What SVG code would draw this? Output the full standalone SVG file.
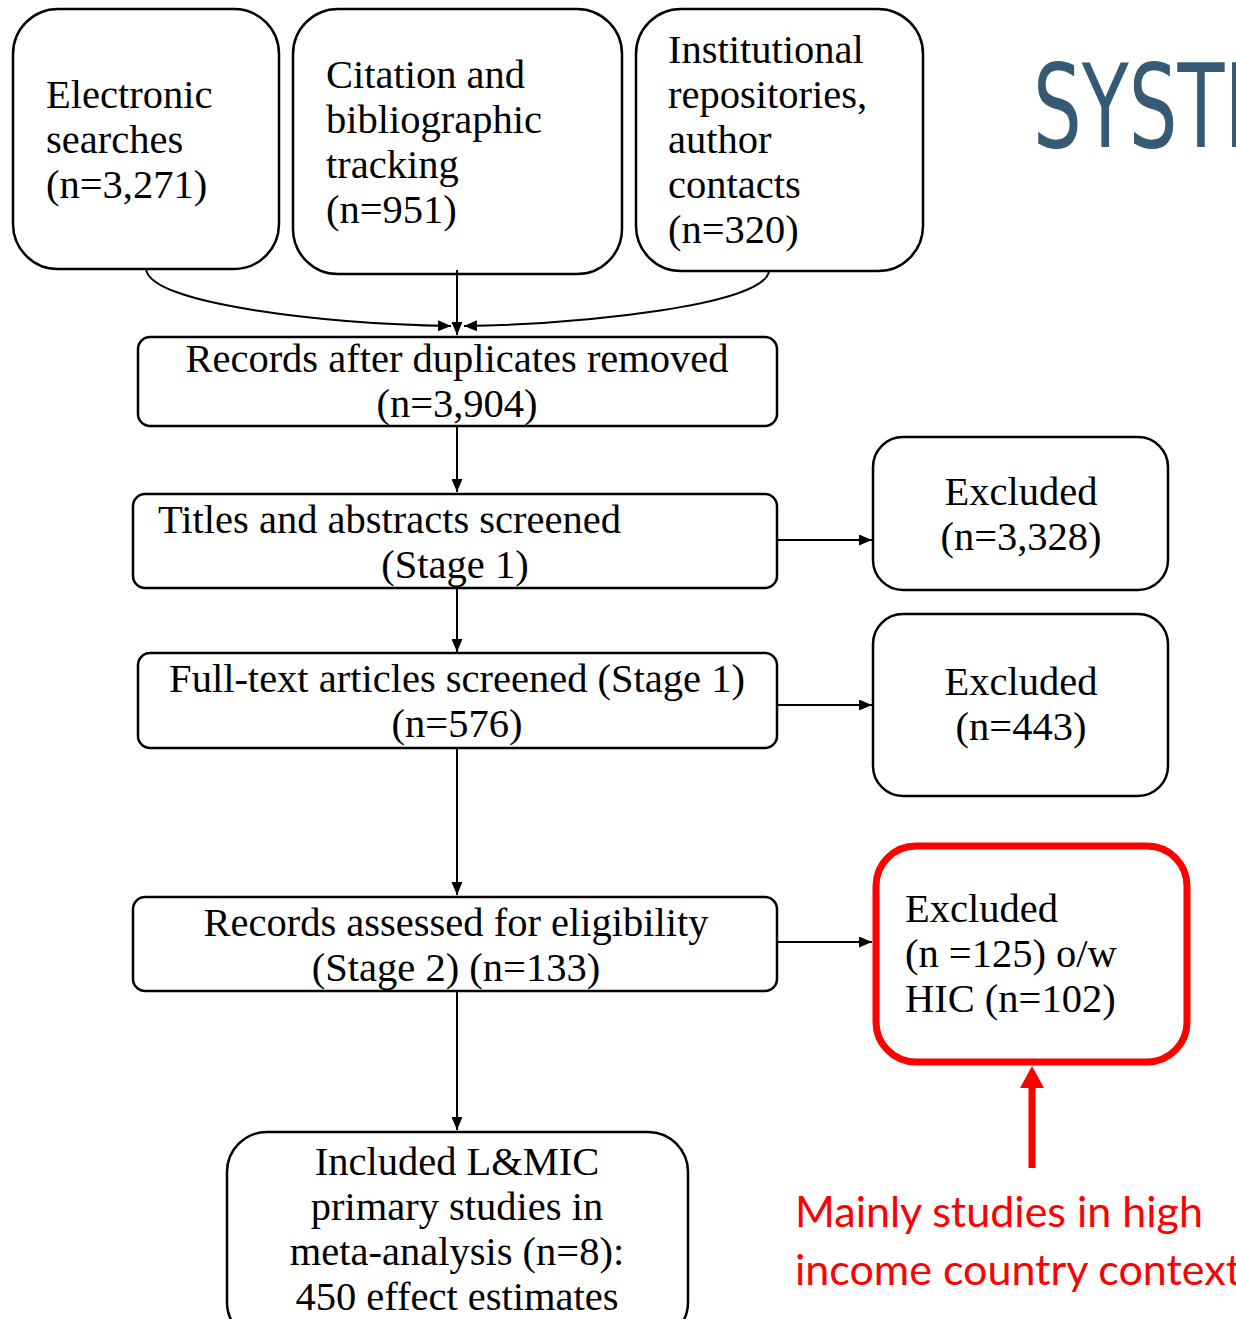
<svg xmlns="http://www.w3.org/2000/svg" width="1236" height="1319" viewBox="0 0 1236 1319">
<defs>
<style>
.box{fill:#fff;stroke:#000;stroke-width:2.5}
.t{font-family:"Liberation Serif","Times New Roman",serif;font-size:40.5px;fill:#000}
.c{text-anchor:middle}
.ln{fill:none;stroke:#000;stroke-width:2}
.red{font-family:Lato,"DejaVu Sans",sans-serif;font-size:43px;fill:#ff0000}
</style>
<marker id="ah" viewBox="0 0 13 11" refX="13" refY="5.5" markerWidth="13" markerHeight="11" markerUnits="userSpaceOnUse" orient="auto">
<path d="M0,0 L13,5.5 L0,11 Z" fill="#000"/>
</marker>
</defs>
<rect width="1236" height="1319" fill="#fff"/>
<text x="1033" y="147" font-family="'DejaVu Sans',sans-serif" font-size="115" fill="#365a73" textLength="240" lengthAdjust="spacingAndGlyphs">SYSTE</text>

<g id="n1"><rect class="box" x="13" y="9" width="266" height="260" rx="45"/>
<text class="t"><tspan x="46" y="108">Electronic</tspan><tspan x="46" y="153">searches</tspan><tspan x="46" y="198">(n=3,271)</tspan></text></g>
<g id="n2"><rect class="box" x="293" y="9" width="329" height="265" rx="45"/>
<text class="t"><tspan x="326" y="88">Citation and</tspan><tspan x="326" y="133">bibliographic</tspan><tspan x="326" y="178">tracking</tspan><tspan x="326" y="223">(n=951)</tspan></text></g>
<g id="n3"><rect class="box" x="636" y="9" width="287" height="262" rx="45"/>
<text class="t"><tspan x="668" y="63">Institutional</tspan><tspan x="668" y="108">repositories,</tspan><tspan x="668" y="153">author</tspan><tspan x="668" y="198">contacts</tspan><tspan x="668" y="243">(n=320)</tspan></text></g>
<g id="n4"><rect class="box" x="138" y="337" width="639" height="89" rx="12"/>
<text class="t c"><tspan x="457" y="372">Records after duplicates removed</tspan><tspan x="457" y="417">(n=3,904)</tspan></text></g>
<g id="n5"><rect class="box" x="133" y="494" width="644" height="94" rx="12"/>
<text class="t"><tspan x="158" y="533">Titles and abstracts screened</tspan><tspan x="455" y="578" text-anchor="middle">(Stage 1)</tspan></text></g>
<g id="n6"><rect class="box" x="138" y="653" width="639" height="95" rx="12"/>
<text class="t c"><tspan x="457" y="692">Full-text articles screened (Stage 1)</tspan><tspan x="457" y="737">(n=576)</tspan></text></g>
<g id="n7"><rect class="box" x="133" y="897" width="644" height="94" rx="12"/>
<text class="t c"><tspan x="456" y="936">Records assessed for eligibility</tspan><tspan x="456" y="981">(Stage 2) (n=133)</tspan></text></g>
<g id="n8"><rect class="box" x="227" y="1132" width="461" height="210" rx="40"/>
<text class="t c"><tspan x="457" y="1175">Included L&amp;MIC</tspan><tspan x="457" y="1220">primary studies in</tspan><tspan x="457" y="1265">meta-analysis (n=8):</tspan><tspan x="457" y="1310">450 effect estimates</tspan></text></g>
<g id="e1"><rect class="box" x="873" y="437" width="295" height="153" rx="30"/>
<text class="t c"><tspan x="1021" y="505">Excluded</tspan><tspan x="1021" y="550">(n=3,328)</tspan></text></g>
<g id="e2"><rect class="box" x="873" y="614" width="295" height="182" rx="30"/>
<text class="t c"><tspan x="1021" y="695">Excluded</tspan><tspan x="1021" y="740">(n=443)</tspan></text></g>
<g id="e3"><rect x="876" y="846" width="311" height="216" rx="40" fill="#fff" stroke="#ff0000" stroke-width="7"/>
<text class="t"><tspan x="905" y="922">Excluded</tspan><tspan x="905" y="967">(n =125) o/w</tspan><tspan x="905" y="1012">HIC (n=102)</tspan></text></g>
<g id="note"><text class="red"><tspan x="795" y="1227">Mainly studies in high</tspan><tspan x="795" y="1285">income country contexts</tspan></text></g>

<g id="connectors">
<path class="ln" d="M146,269 C150,305 330,324 451,326" marker-end="url(#ah)"/>
<path class="ln" d="M457,270 L457,335" marker-end="url(#ah)"/>
<path class="ln" d="M769,271 C765,305 585,324 464,326" marker-end="url(#ah)"/>
<path class="ln" d="M457,426 L457,492" marker-end="url(#ah)"/>
<path class="ln" d="M457,588 L457,652" marker-end="url(#ah)"/>
<path class="ln" d="M457,748 L457,895" marker-end="url(#ah)"/>
<path class="ln" d="M457,991 L457,1130" marker-end="url(#ah)"/>
<path class="ln" d="M777,540 L872,540" marker-end="url(#ah)"/>
<path class="ln" d="M777,705 L872,705" marker-end="url(#ah)"/>
<path class="ln" d="M777,942 L872,942" marker-end="url(#ah)"/>
<path d="M1032,1168 L1032,1084" stroke="#ff0000" stroke-width="7" fill="none"/>
<path d="M1020,1088 L1032,1066 L1044,1088 Z" fill="#ff0000"/>
</g>
</svg>
